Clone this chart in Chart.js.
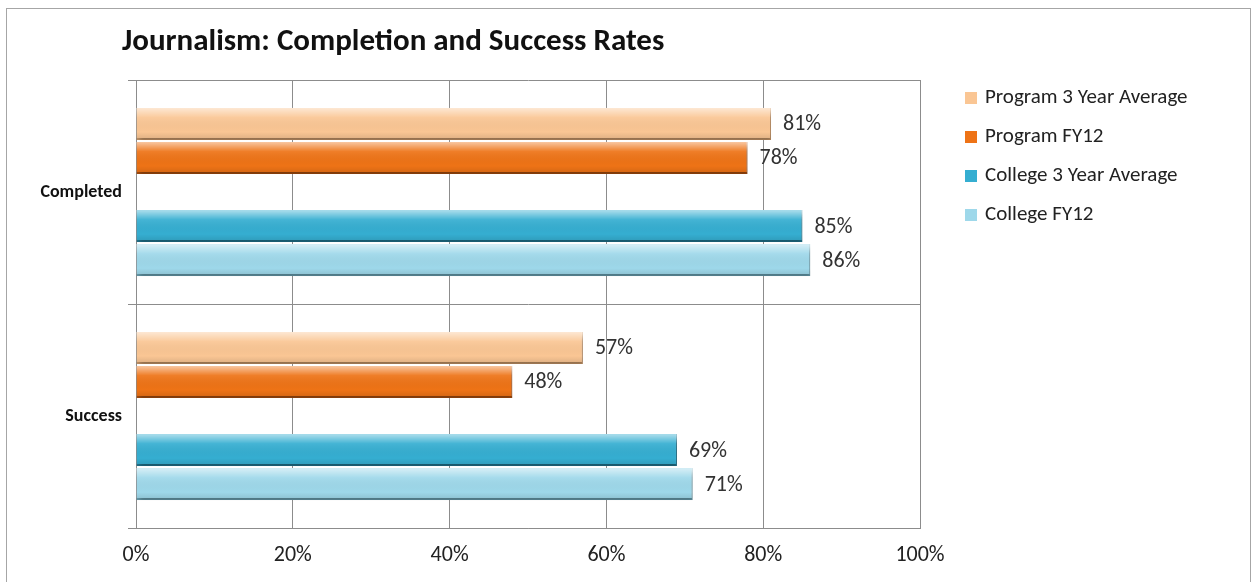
<!DOCTYPE html>
<html>
<head>
<meta charset="utf-8">
<script src="https://cdn.jsdelivr.net/npm/chart.js@4.4.1/dist/chart.umd.min.js"></script>
<style>
    body { margin: 0; background: #fff; }
    #wrap { position: relative; width: 1253px; height: 582px; overflow: hidden; }
    #frame { position: absolute; left: 6px; top: 8px; width: 1245px; height: 600px; border: 1px solid #a6a6a6; box-sizing: border-box; }
    canvas { position: absolute; left: 0; top: 0; }
</style>
</head>
<body>
<div id="wrap">
    <div id="frame"></div>
    <canvas id="chart" width="1253" height="582"></canvas>
</div>
<script>
// Chart data
const categories = ['Completed', 'Success'];
const program3yr = [81, 57];
const programFY12 = [78, 48];
const college3yr = [85, 69];
const collegeFY12 = [86, 71];
const xTicks = [0, 20, 40, 60, 80, 100];
const titleText = 'Journalism: Completion and Success Rates';

const FONT = "Carlito, Calibri, Lato, 'DejaVu Sans', sans-serif";

// shadow under bars, top highlight, value labels, title and legend
const decorPlugin = {
    id: 'decor',
    beforeDatasetsDraw(chart) {
        const ctx = chart.ctx;
        ctx.save();
        ctx.shadowColor = 'rgba(0,0,0,0.3)';
        ctx.shadowBlur = 5;
        ctx.shadowOffsetX = 2;
        ctx.shadowOffsetY = 3;
    },
    afterDatasetsDraw(chart) {
        const ctx = chart.ctx;
        ctx.restore();
        ctx.save();
        chart.data.datasets.forEach((ds, i) => {
            if (!ds.label) return;
            const meta = chart.getDatasetMeta(i);
            meta.data.forEach((bar, j) => {
                const h = bar.height;
                const top = bar.y - h / 2;
                const g = ctx.createLinearGradient(0, top, 0, top + h);
                g.addColorStop(0, 'rgba(255,255,255,0.6)');
                g.addColorStop(0.3, 'rgba(255,255,255,0.08)');
                g.addColorStop(0.75, 'rgba(0,0,0,0)');
                g.addColorStop(1, 'rgba(0,0,0,0.12)');
                ctx.fillStyle = g;
                ctx.fillRect(bar.base, top, bar.x - bar.base, h);

                ctx.fillStyle = '#333';
                ctx.font = '22px ' + FONT;
                ctx.textAlign = 'left';
                ctx.textBaseline = 'middle';
                ctx.fillText(ds.data[j] + '%', bar.x + 12, bar.y + 1);
            });
        });
        ctx.restore();
    },
    afterDraw(chart) {
        const ctx = chart.ctx;
        const area = chart.chartArea;
        ctx.save();
        ctx.fillStyle = '#111';
        ctx.font = 'bold 31px ' + FONT;
        ctx.textBaseline = 'middle';
        ctx.fillText(titleText, area.left - 14, 42);

        // legend
        let y = 98;
        ctx.font = '21px ' + FONT;
        chart.data.datasets.forEach(ds => {
            if (!ds.label) return;
            ctx.fillStyle = ds.backgroundColor;
            ctx.fillRect(area.right + 45, y - 6, 12, 12);
            ctx.fillStyle = '#222';
            ctx.fillText(ds.label, area.right + 65, y);
            y += 39;
        });
        ctx.restore();
    }
};

const barStyle = {
    barPercentage: 0.94,
    categoryPercentage: 0.76,
    borderSkipped: 'start',
    borderWidth: { top: 0, right: 1, bottom: 2, left: 0 }
};

new Chart(document.getElementById('chart'), {
    type: 'bar',
    data: {
        labels: categories,
        datasets: [
            { label: 'Program 3 Year Average', data: program3yr, backgroundColor: '#fac694', borderColor: '#d9a472', ...barStyle },
            { label: 'Program FY12', data: programFY12, backgroundColor: '#ee7316', borderColor: '#b85510', ...barStyle },
            { label: '', data: [null, null], ...barStyle },
            { label: 'College 3 Year Average', data: college3yr, backgroundColor: '#35aed1', borderColor: '#24809d', ...barStyle },
            { label: 'College FY12', data: collegeFY12, backgroundColor: '#9ed8ea', borderColor: '#72aec0', ...barStyle }
        ]
    },
    options: {
        indexAxis: 'y',
        responsive: false,
        animation: false,
        layout: { padding: { left: 20, top: 80, right: 333, bottom: 0 } },
        plugins: {
            legend: { display: false },
            tooltip: { enabled: false }
        },
        scales: {
            x: {
                min: 0,
                max: 100,
                afterBuildTicks: axis => { axis.ticks = xTicks.map(v => ({ value: v })); },
                afterFit: axis => { axis.height = 582 - 528; },
                grid: { color: '#8c8c8c', drawTicks: false },
                border: { color: '#8c8c8c' },
                ticks: {
                    padding: 14,
                    color: '#222',
                    font: { size: 22, family: FONT },
                    callback: v => v + '%'
                }
            },
            y: {
                afterFit: axis => { axis.width = 136 - 20; },
                grid: { color: '#8c8c8c', tickLength: 8, offset: true },
                border: { color: '#8c8c8c' },
                ticks: {
                    padding: 6,
                    color: '#111',
                    font: { size: 18, weight: 'bold', family: FONT }
                }
            }
        }
    },
    plugins: [decorPlugin]
});
</script>
</body>
</html>
